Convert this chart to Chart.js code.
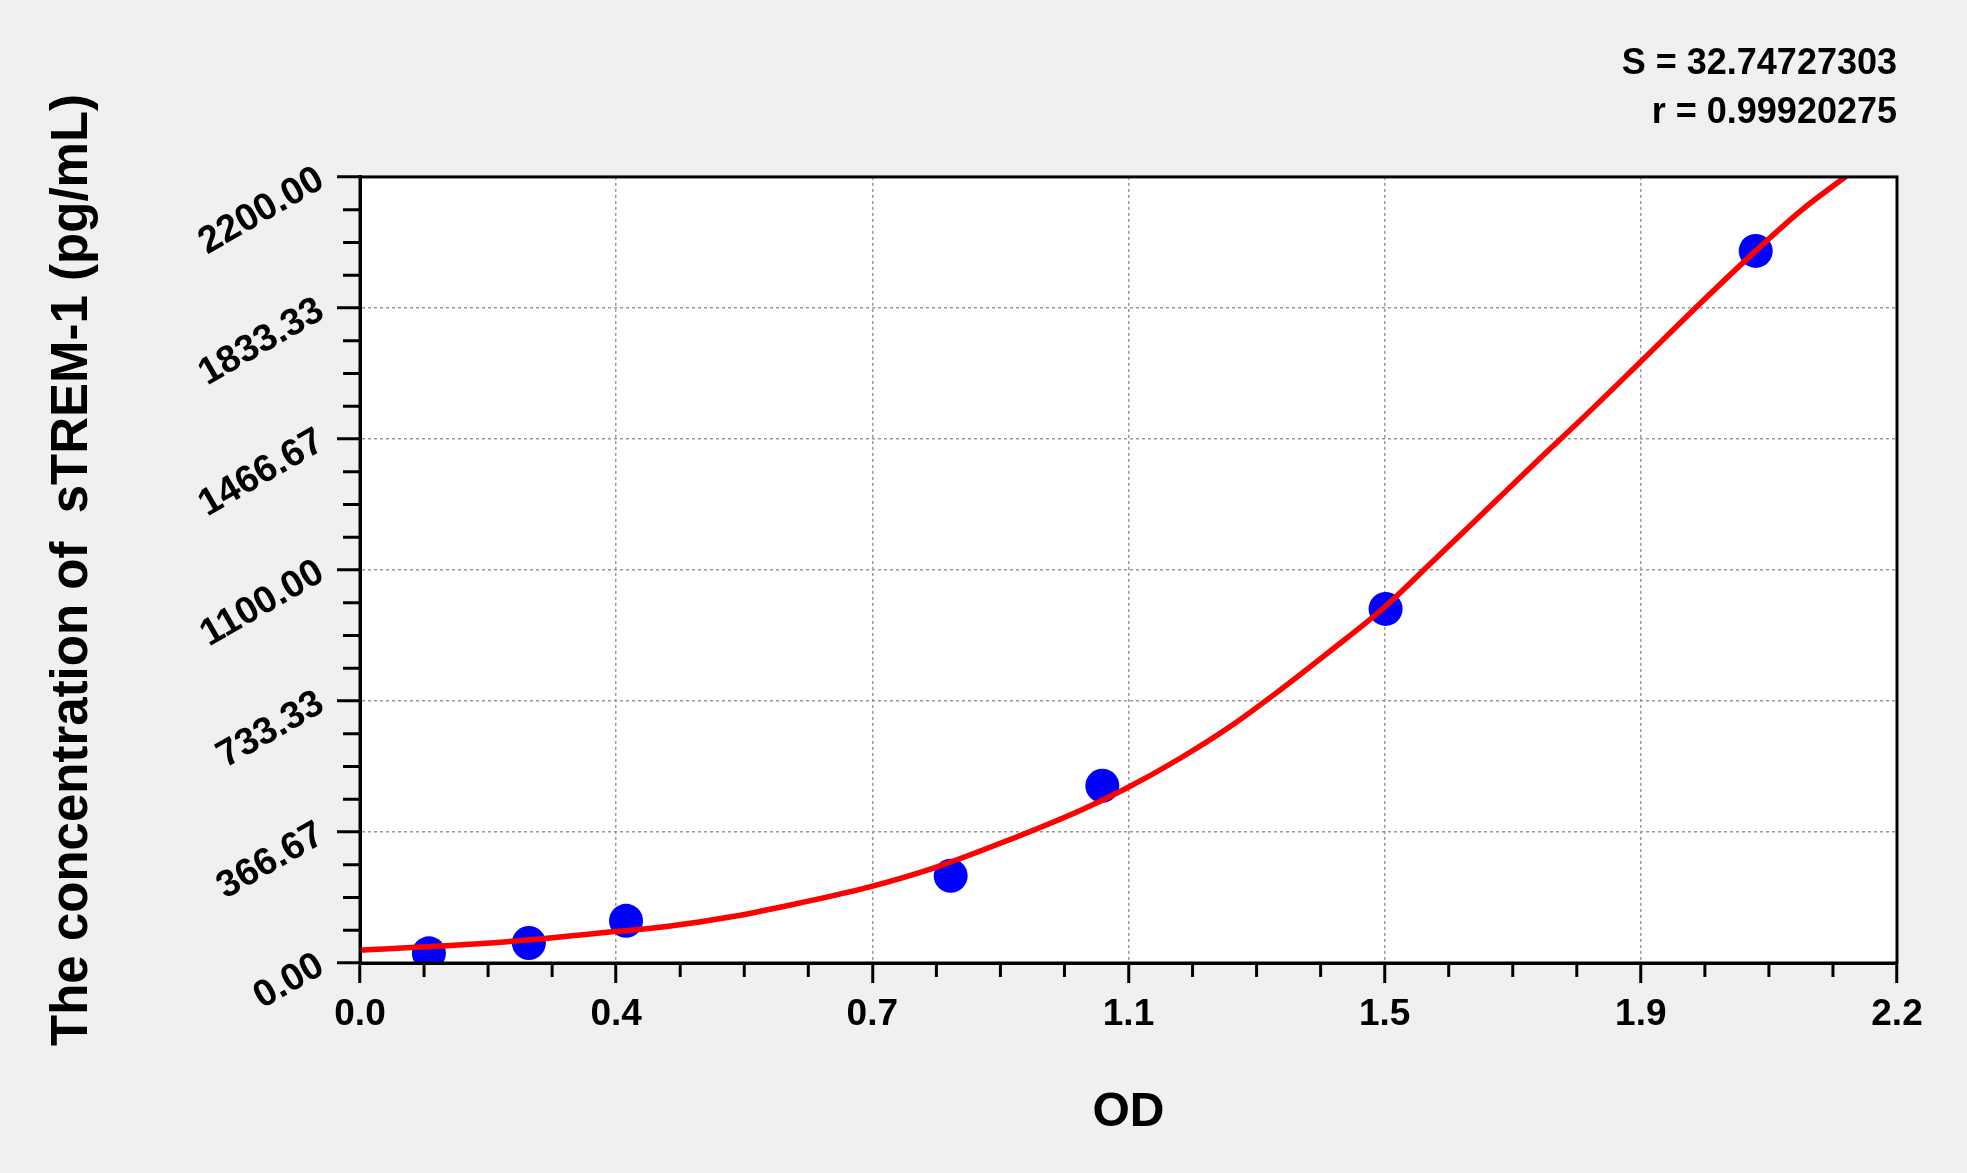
<!DOCTYPE html>
<html>
<head>
<meta charset="utf-8">
<script src="https://cdn.jsdelivr.net/npm/chart.js@4.4.0/dist/chart.umd.min.js"></script>
<style>
html, body { margin: 0; padding: 0; background: #f0f0f0; }
canvas { display: block; }
</style>
</head>
<body>
<canvas id="myChart" width="1967" height="1173"></canvas>
<script>
// standards (OD vs concentration)
const standardOD = [0.100, 0.245, 0.386, 0.857, 1.077, 1.488, 2.025];
const standardConc = [27, 56, 118, 244, 496, 991, 1993];

// fitted curve
const curveOD = [0, 0.183, 0.371, 0.445, 0.541, 0.638, 0.741, 0.831, 0.929, 1.045, 1.112, 1.190, 1.262, 1.335, 1.407, 1.483, 1.557, 1.630, 1.702, 1.775, 1.854, 1.944, 2.025, 2.089, 2.159];
const curveConc = [36, 55, 88, 102, 130, 168, 214, 265, 335, 427, 489, 573, 661, 764, 872, 990, 1125, 1260, 1394, 1527, 1675, 1845, 1993, 2103, 2206];

const xTickLabels = ['0.0', '0.4', '0.7', '1.1', '1.5', '1.9', '2.2'];
const yTickLabels = ['0.00', '366.67', '733.33', '1100.00', '1466.67', '1833.33', '2200.00'];
const xMax = 2.23;
const yMax = 2200;
const fitStats = ['S = 32.74727303', 'r = 0.99920275'];

const FONT = "'Liberation Sans', Arial, sans-serif";

// white plot box, frame and minor ticks
const plotFrame = {
    id: 'plotFrame',
    beforeDraw(chart) {
        const ctx = chart.ctx, a = chart.chartArea;
        ctx.save();
        ctx.fillStyle = '#f0f0f0';
        ctx.fillRect(0, 0, chart.width, chart.height);
        ctx.fillStyle = '#ffffff';
        ctx.fillRect(a.left, a.top, a.right - a.left, a.bottom - a.top);
        ctx.restore();
    },
    afterDraw(chart) {
        const ctx = chart.ctx, a = chart.chartArea;
        const xs = chart.scales.x, ys = chart.scales.y;
        ctx.save();
        ctx.strokeStyle = '#000';
        ctx.lineWidth = 3;
        ctx.beginPath();
        for (let i = 0; i < 6; i++) {
            for (let j = 1; j < 4; j++) {
                const xv = (i + j / 4) * xMax / 6;
                const px = xs.getPixelForValue(xv);
                ctx.moveTo(px, a.bottom);
                ctx.lineTo(px, a.bottom + 14);
                const yv = (i + j / 4) * yMax / 6;
                const py = ys.getPixelForValue(yv);
                ctx.moveTo(a.left, py);
                ctx.lineTo(a.left - 17, py);
            }
        }
        ctx.stroke();
        ctx.strokeRect(a.left, a.top, a.right - a.left, a.bottom - a.top);
        ctx.restore();
    }
};

const ctx = document.getElementById('myChart').getContext('2d');

const myChart = new Chart(ctx, {
    type: 'scatter',
    data: {
        datasets: [{
            label: 'curve',
            data: curveOD.map((v, i) => ({ x: v, y: curveConc[i] })),
            showLine: true,
            borderColor: '#ff0000',
            borderWidth: 5.5,
            pointRadius: 0,
            cubicInterpolationMode: 'monotone'
        }, {
            label: 'standards',
            data: standardOD.map((v, i) => ({ x: v, y: standardConc[i] })),
            showLine: false,
            pointRadius: 17,
            backgroundColor: '#0000ff',
            borderWidth: 0
        }]
    },
    options: {
        responsive: false,
        devicePixelRatio: 1,
        animation: false,
        layout: { padding: { left: 0, right: 70, top: 0, bottom: 0 } },
        plugins: {
            legend: { display: false },
            tooltip: { enabled: false },
            title: {
                display: true,
                text: fitStats,
                align: 'end',
                color: '#000',
                font: { family: FONT, size: 36, weight: 'bold', lineHeight: 1.36 },
                padding: { top: 40, bottom: 39 }
            }
        },
        scales: {
            x: {
                type: 'linear',
                min: 0,
                max: xMax,
                afterBuildTicks: s => { s.ticks = xTickLabels.map((t, i) => ({ value: i * xMax / 6 })); },
                afterFit: s => { s.height = 210; },
                ticks: {
                    callback: (v, i) => xTickLabels[i],
                    color: '#000',
                    font: { family: FONT, size: 37, weight: 'bold' },
                    padding: 10,
                    maxRotation: 0,
                    autoSkip: false
                },
                grid: { color: '#9a9a9a', lineWidth: 1.5, tickColor: '#000', tickWidth: 3, tickLength: 20 },
                border: { color: '#000', width: 3, dash: [3, 3] },
                title: {
                    display: true,
                    text: 'OD',
                    color: '#000',
                    font: { family: FONT, size: 48, weight: 'bold' },
                    padding: { top: 0, bottom: 31 }
                }
            },
            y: {
                type: 'linear',
                min: 0,
                max: yMax,
                afterBuildTicks: s => { s.ticks = yTickLabels.map((t, i) => ({ value: i * yMax / 6 })); },
                afterFit: s => { s.width = 360; },
                ticks: {
                    callback: (v, i) => yTickLabels[i],
                    color: '#000',
                    font: { family: FONT, size: 38, weight: 'bold' },
                    padding: 16,
                    minRotation: 30,
                    maxRotation: 30,
                    autoSkip: false
                },
                grid: { color: '#9a9a9a', lineWidth: 1.5, tickColor: '#000', tickWidth: 3, tickLength: 23 },
                border: { color: '#000', width: 3, dash: [3, 3] },
                title: {
                    display: true,
                    text: 'The concentration of  sTREM-1 (pg/mL)',
                    color: '#000',
                    font: { family: FONT, size: 51, weight: 'bold' },
                    padding: { top: 42, bottom: 0 }
                }
            }
        }
    },
    plugins: [plotFrame]
});
</script>
</body>
</html>
